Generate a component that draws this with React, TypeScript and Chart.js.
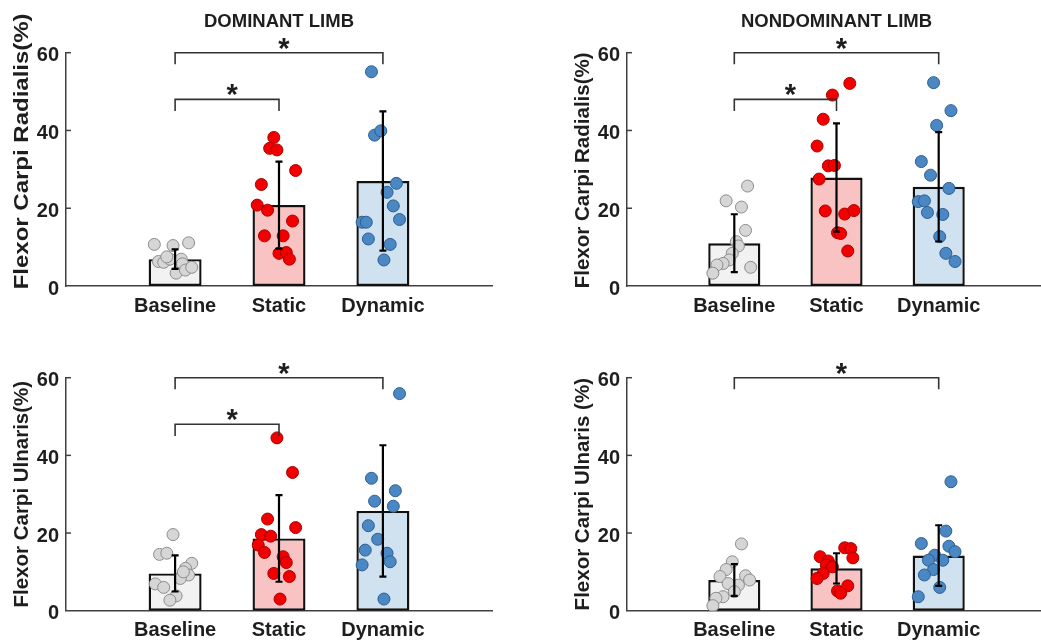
import React, { useEffect, useRef } from "react";
import { Chart, registerables } from "chart.js";

Chart.register(...registerables);

// ---------- shared labels ----------
const categories = ["Baseline", "Static", "Dynamic"];
const yTickValues = [0, 20, 40, 60];
const panelTitles = ["DOMINANT LIMB", "NONDOMINANT LIMB", "", ""];
const yAxisTitles = [
  "Flexor Carpi Radialis(%)",
  "Flexor Carpi Radialis(%)",
  "Flexor Carpi Ulnaris(%)",
  "Flexor Carpi Ulnaris (%)",
];

// ---------- Panel 1: dominant limb, flexor carpi radialis ----------
const domFcrMeans = [6.9, 20.8, 27.0];
const domFcrSd = [2.5, 11.2, 17.9];
const domFcrBaseline = [10.7, 10.4, 11.1, 6.3, 6.1, 6.9, 6.9, 5.7, 3.3, 4.1, 4.8, 7.5];
const domFcrBaselineJitter = [-0.2, -0.02, 0.13, -0.16, -0.11, -0.05, 0.06, 0.07, 0.01, 0.1, 0.16, -0.08];
const domFcrStatic = [38.2, 35.4, 35.0, 29.7, 26.1, 20.8, 19.5, 16.7, 12.9, 12.9, 8.4, 8.6, 6.9];
const domFcrStaticJitter = [-0.05, -0.09, -0.02, 0.16, -0.17, -0.21, -0.11, 0.13, -0.14, 0.04, 0.0, 0.07, 0.1];
const domFcrDynamic = [55.1, 38.8, 39.9, 26.4, 24.1, 20.6, 17.1, 16.4, 16.4, 12.1, 10.7, 6.7];
const domFcrDynamicJitter = [-0.11, -0.08, -0.02, 0.13, 0.04, 0.1, 0.16, -0.2, -0.16, -0.14, 0.07, 0.01];
const domFcrBrackets: [number, number, number, string][] = [
  [0, 2, 60, "*"],
  [0, 1, 48, "*"],
];

// ---------- Panel 2: nondominant limb, flexor carpi radialis ----------
const ndFcrMeans = [11.0, 27.9, 25.5];
const ndFcrSd = [7.45, 13.9, 14.05];
const ndFcrBaseline = [25.7, 21.9, 20.3, 14.3, 11.4, 10.3, 8.4, 6.7, 5.8, 5.4, 4.8, 3.3];
const ndFcrBaselineJitter = [0.13, -0.08, 0.07, 0.11, 0.02, 0.04, -0.02, -0.05, -0.11, -0.17, 0.16, -0.21];
const ndFcrStatic = [52.1, 49.1, 42.9, 36.0, 30.9, 31.0, 27.5, 19.3, 18.5, 19.4, 13.7, 13.5, 9.0];
const ndFcrStaticJitter = [0.13, -0.04, -0.13, -0.19, -0.08, -0.02, -0.17, -0.11, 0.08, 0.17, 0.01, 0.04, 0.11];
const ndFcrDynamic = [52.3, 45.1, 41.3, 32.0, 28.5, 25.1, 21.7, 21.9, 18.9, 18.4, 12.7, 8.4, 6.3];
const ndFcrDynamicJitter = [-0.05, 0.12, -0.02, -0.17, -0.08, 0.1, -0.2, -0.14, -0.11, 0.04, 0.01, 0.07, 0.16];
const ndFcrBrackets: [number, number, number, string][] = [
  [0, 2, 60, "*"],
  [0, 1, 48, "*"],
];

// ---------- Panel 3: dominant limb, flexor carpi ulnaris ----------
const domFcuMeans = [9.6, 18.6, 25.7];
const domFcuSd = [4.65, 11.15, 16.9];
const domFcuBaseline = [19.6, 14.5, 14.8, 12.2, 10.9, 9.2, 8.3, 6.9, 6.0, 3.8, 2.7, 10.0];
const domFcuBaselineJitter = [-0.02, -0.15, -0.08, 0.16, 0.1, 0.13, 0.05, -0.19, -0.11, 0.01, -0.05, 0.08];
const domFcuStatic = [44.5, 35.6, 23.6, 21.4, 19.6, 19.2, 16.9, 15.0, 13.9, 12.4, 9.6, 8.8, 3.0];
const domFcuStaticJitter = [-0.02, 0.13, -0.11, 0.16, -0.17, -0.08, -0.2, -0.14, 0.04, 0.07, -0.05, 0.1, 0.01];
const domFcuDynamic = [55.9, 34.1, 30.9, 28.2, 26.9, 21.9, 18.4, 14.8, 12.6, 15.6, 11.8, 3.0];
const domFcuDynamicJitter = [0.16, -0.11, 0.12, -0.08, 0.1, -0.14, -0.05, 0.04, 0.07, -0.17, -0.2, 0.01];
const domFcuBrackets: [number, number, number, string][] = [
  [0, 2, 60, "*"],
  [0, 1, 48, "*"],
];

// ---------- Panel 4: nondominant limb, flexor carpi ulnaris ----------
const ndFcuMeans = [7.9, 10.9, 14.2];
const ndFcuSd = [4.1, 3.9, 7.8];
const ndFcuBaseline = [17.2, 12.6, 10.6, 8.8, 9.0, 7.9, 6.6, 7.0, 4.9, 3.6, 3.2, 1.3];
const ndFcuBaselineJitter = [0.07, -0.02, -0.08, -0.14, 0.11, 0.15, 0.04, -0.06, 0.0, -0.11, -0.18, -0.21];
const ndFcuStatic = [16.2, 16.0, 13.6, 13.9, 12.8, 11.8, 11.3, 9.6, 8.3, 6.4, 5.1, 4.5];
const ndFcuStaticJitter = [0.08, 0.14, 0.16, -0.16, -0.08, -0.1, -0.04, -0.13, -0.19, 0.11, 0.01, 0.04];
const ndFcuDynamic = [33.2, 20.5, 17.3, 16.6, 15.2, 14.3, 13.0, 13.0, 10.6, 9.2, 6.0, 3.6];
const ndFcuDynamicJitter = [0.12, 0.07, -0.17, 0.1, 0.16, -0.04, -0.1, 0.04, -0.05, -0.14, 0.01, -0.2];
const ndFcuBrackets: [number, number, number, string][] = [[0, 2, 60, "*"]];

// ---------- styles ----------
const FONT = "'Liberation Sans', Arial, Helvetica, sans-serif";
const TEXT = "#1e1e1e";
const AXIS = "#404040";
const barFills = ["#f2f2f2", "#f9c3c3", "#d0e1f0"];
const pointFills = ["#d6d6d6", "#f20000", "#4a87c3"];
const pointEdges = ["#8c8c8c", "#a80000", "#2c5f92"];

type PanelData = {
  means: number[];
  sd: number[];
  groups: number[][];
  jitters: number[][];
  brackets: [number, number, number, string][];
};

const panelData: PanelData[] = [
  {
    means: domFcrMeans,
    sd: domFcrSd,
    groups: [domFcrBaseline, domFcrStatic, domFcrDynamic],
    jitters: [domFcrBaselineJitter, domFcrStaticJitter, domFcrDynamicJitter],
    brackets: domFcrBrackets,
  },
  {
    means: ndFcrMeans,
    sd: ndFcrSd,
    groups: [ndFcrBaseline, ndFcrStatic, ndFcrDynamic],
    jitters: [ndFcrBaselineJitter, ndFcrStaticJitter, ndFcrDynamicJitter],
    brackets: ndFcrBrackets,
  },
  {
    means: domFcuMeans,
    sd: domFcuSd,
    groups: [domFcuBaseline, domFcuStatic, domFcuDynamic],
    jitters: [domFcuBaselineJitter, domFcuStaticJitter, domFcuDynamicJitter],
    brackets: domFcuBrackets,
  },
  {
    means: ndFcuMeans,
    sd: ndFcuSd,
    groups: [ndFcuBaseline, ndFcuStatic, ndFcuDynamic],
    jitters: [ndFcuBaselineJitter, ndFcuStaticJitter, ndFcuDynamicJitter],
    brackets: ndFcuBrackets,
  },
];

const panelLayout = [
  { left: 0, top: 0, width: 520, height: 322, padTop: 52.7, padRight: 28, yW: 66, xH: 36, titleStretch: 1.17, titleShift: -18 },
  { left: 520, top: 0, width: 533, height: 322, padTop: 52.7, padRight: 0, yW: 107, xH: 36, titleStretch: 1, titleShift: 1 },
  { left: 0, top: 322, width: 520, height: 322, padTop: 55.7, padRight: 28, yW: 66, xH: 33.3, titleStretch: 1, titleShift: 0 },
  { left: 520, top: 322, width: 533, height: 322, padTop: 55.7, padRight: 0, yW: 107, xH: 33.3, titleStretch: 1, titleShift: 0 },
];

function makeOverlay(data: PanelData, idx: number) {
  const lay = panelLayout[idx];
  return {
    id: "overlay" + idx,
    afterDatasetsDraw(chart: any) {
      const { ctx } = chart;
      const x = chart.scales.x;
      const y = chart.scales.y;
      ctx.save();
      ctx.strokeStyle = "#000";
      ctx.lineWidth = 2.2;
      data.means.forEach((m, i) => {
        const cx = x.getPixelForValue(i);
        const top = y.getPixelForValue(m + data.sd[i]);
        const bot = y.getPixelForValue(m - data.sd[i]);
        ctx.beginPath();
        ctx.moveTo(cx, top);
        ctx.lineTo(cx, bot);
        ctx.moveTo(cx - 3.5, top);
        ctx.lineTo(cx + 3.5, top);
        ctx.moveTo(cx - 3.5, bot);
        ctx.lineTo(cx + 3.5, bot);
        ctx.stroke();
      });
      ctx.restore();
    },
    afterDraw(chart: any) {
      const { ctx, chartArea } = chart;
      const x = chart.scales.x;
      const y = chart.scales.y;
      ctx.save();
      // inward tick marks on y axis
      ctx.strokeStyle = AXIS;
      ctx.lineWidth = 1.5;
      yTickValues.forEach((v) => {
        if (v === 0) return;
        const py = y.getPixelForValue(v);
        ctx.beginPath();
        ctx.moveTo(chartArea.left, py);
        ctx.lineTo(chartArea.left + 5, py);
        ctx.stroke();
      });
      // significance brackets
      ctx.strokeStyle = "#333";
      ctx.lineWidth = 1.6;
      data.brackets.forEach(([a, b, v, label]) => {
        const x1 = x.getPixelForValue(a);
        const x2 = x.getPixelForValue(b);
        const yt = y.getPixelForValue(v);
        const yl = y.getPixelForValue(v - 3);
        ctx.beginPath();
        ctx.moveTo(x1, yl);
        ctx.lineTo(x1, yt);
        ctx.lineTo(x2, yt);
        ctx.lineTo(x2, yl);
        ctx.stroke();
        ctx.fillStyle = TEXT;
        ctx.font = `bold 29px ${FONT}`;
        ctx.textAlign = "center";
        ctx.textBaseline = "alphabetic";
        ctx.fillText(label, (x1 + x2) / 2 + 5, yt + 5);
      });
      // panel title
      const title = panelTitles[idx];
      if (title) {
        ctx.fillStyle = TEXT;
        ctx.font = `bold 18.5px ${FONT}`;
        ctx.textAlign = "center";
        ctx.textBaseline = "middle";
        ctx.fillText(title, x.getPixelForValue(1), 22);
      }
      // y axis title
      ctx.translate(chartArea.left - 44, (chartArea.top + chartArea.bottom) / 2 + lay.titleShift);
      ctx.rotate(-Math.PI / 2);
      ctx.scale(lay.titleStretch, 1);
      ctx.fillStyle = TEXT;
      ctx.font = `bold 20.5px ${FONT}`;
      ctx.textAlign = "center";
      ctx.textBaseline = "middle";
      ctx.fillText(yAxisTitles[idx], 0, 0);
      ctx.restore();
    },
  };
}

function Panel({ idx }: { idx: number }) {
  const ref = useRef<HTMLCanvasElement | null>(null);
  const lay = panelLayout[idx];
  const data = panelData[idx];
  useEffect(() => {
    if (!ref.current) return;
    const datasets: any[] = [
      {
        type: "bar",
        data: data.means.map((m, i) => ({ x: i, y: m })),
        backgroundColor: barFills,
        borderColor: "#111",
        borderWidth: 2.4,
        borderSkipped: false,
        barPercentage: 1,
        categoryPercentage: 0.51,
        order: 2,
      },
      ...data.groups.map((vals, g) => ({
        type: "scatter",
        data: vals.map((v, k) => ({ x: g + data.jitters[g][k], y: v })),
        backgroundColor: pointFills[g],
        borderColor: pointEdges[g],
        borderWidth: 1,
        pointRadius: 6,
        order: 1,
      })),
    ];
    const chart = new Chart(ref.current, {
      type: "bar",
      data: { datasets },
      plugins: [makeOverlay(data, idx)],
      options: {
        responsive: false,
        animation: false,
        devicePixelRatio: 1,
        layout: { padding: { top: lay.padTop, right: lay.padRight, left: 0, bottom: 0 } },
        plugins: { legend: { display: false }, tooltip: { enabled: false }, title: { display: false } },
        scales: {
          x: {
            type: "linear",
            min: -1.05,
            max: 3.05,
            offset: false,
            grid: { display: false, drawTicks: false },
            border: { display: true, color: AXIS, width: 1.5 },
            afterBuildTicks: (s: any) => {
              s.ticks = categories.map((_, i) => ({ value: i }));
            },
            afterFit: (s: any) => {
              s.height = lay.xH;
            },
            ticks: {
              autoSkip: false,
              maxRotation: 0,
              padding: 8,
              color: TEXT,
              font: { family: FONT, size: 20, weight: "bold" },
              callback: (v: any) => categories[v] ?? "",
            },
          },
          y: {
            type: "linear",
            min: 0,
            max: 60,
            grid: { display: false, drawTicks: false },
            border: { display: true, color: AXIS, width: 1.5 },
            afterBuildTicks: (s: any) => {
              s.ticks = yTickValues.map((v) => ({ value: v }));
            },
            afterFit: (s: any) => {
              s.width = lay.yW;
            },
            ticks: {
              padding: 7,
              labelOffset: 3,
              color: TEXT,
              font: { family: FONT, size: 20, weight: "bold" },
            },
          },
        },
      } as any,
    });
    return () => chart.destroy();
  }, []);
  return (
    <canvas
      ref={ref}
      width={lay.width}
      height={lay.height}
      style={{ position: "absolute", left: lay.left, top: lay.top, width: lay.width, height: lay.height }}
    />
  );
}

export default function App() {
  return (
    <div
      style={{
        position: "absolute",
        left: 0,
        top: 0,
        width: 1041,
        height: 644,
        overflow: "hidden",
        background: "#fff",
      }}
    >
      {panelLayout.map((_, i) => (
        <Panel key={i} idx={i} />
      ))}
    </div>
  );
}
